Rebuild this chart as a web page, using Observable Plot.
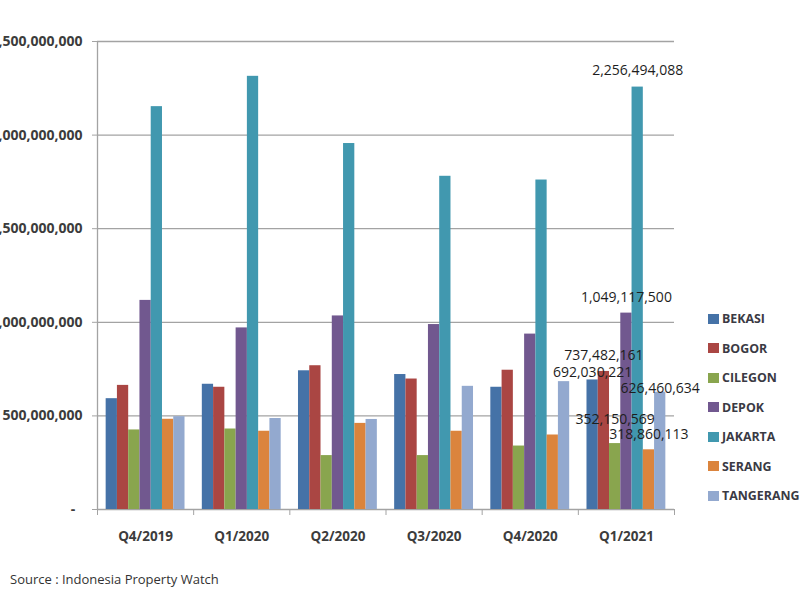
<!DOCTYPE html>
<html>
<head>
<meta charset="utf-8">
<script src="https://cdn.jsdelivr.net/npm/d3@7"></script>
<script src="https://cdn.jsdelivr.net/npm/@observablehq/plot@0.6"></script>
<style>
  html, body { margin: 0; padding: 0; background: #fff; }
  #wrap { position: relative; width: 800px; height: 600px; overflow: hidden; font-family: 'Open Sans', sans-serif; }
  #chart { position: absolute; left: 0; top: 0; }
  #legend { position: absolute; left: 708px; top: 304px; }
  .row { height: 29.5px; display: flex; align-items: center; font-size: 12.4px; font-weight: 700; color: #3a3a44; white-space: nowrap; }
  .sw { width: 11px; height: 10px; margin-right: 3px; flex: none; }
  #source { position: absolute; left: 10px; top: 570px; font-size: 13px; color: #333; }
</style>
</head>
<body>
<div id="wrap">
  <div id="chart"></div>
  <div id="legend"></div>
  <div id="source">Source : Indonesia Property Watch</div>
</div>
<script>
const quarters = ["Q4/2019", "Q1/2020", "Q2/2020", "Q3/2020", "Q4/2020", "Q1/2021"];
const cities = ["BEKASI", "BOGOR", "CILEGON", "DEPOK", "JAKARTA", "SERANG", "TANGERANG"];
const colors = ["#4572A7", "#AA4643", "#89A54E", "#71588F", "#4198AF", "#DB843D", "#93A9CF"];

const bekasi    = [592e6, 669e6, 741e6, 721e6, 653e6, 692030221];
const bogor     = [663e6, 653e6, 768e6, 697e6, 744e6, 737482161];
const cilegon   = [425e6, 430e6, 288e6, 288e6, 339e6, 352150569];
const depok     = [1117e6, 970e6, 1034e6, 988e6, 937e6, 1049117500];
const jakarta   = [2152e6, 2314e6, 1955e6, 1780e6, 1760e6, 2256494088];
const serang    = [482e6, 418e6, 460e6, 418e6, 398e6, 318860113];
const tangerang = [496e6, 486e6, 481e6, 658e6, 683e6, 626460634];

const yTicks = [0, 5e8, 1e9, 1.5e9, 2e9, 2.5e9];
const labelledQuarter = "Q1/2021";

// style: vertical offset (px) of each value label from its bar top
const labelDy = {BEKASI: -7, BOGOR: -16, CILEGON: -24, DEPOK: -16, JAKARTA: -17, SERANG: -15, TANGERANG: -4};

const series = [bekasi, bogor, cilegon, depok, jakarta, serang, tangerang];
const rows = cities.flatMap((city, ci) =>
  series[ci].map((value, qi) => ({city, ci, quarter: quarters[qi], qi, value})));

const pad = 0.09;
const bw = (1 - 2 * pad) / cities.length;
const x1 = d => d.qi + pad + d.ci * bw;
const x2 = d => d.qi + pad + (d.ci + 1) * bw;
const xc = d => d.qi + pad + (d.ci + 0.5) * bw;

const gray = "#a3a3a3";
const fmt = d3.format(",");
const labelled = rows.filter(d => d.quarter === labelledQuarter);

const plot = Plot.plot({
  width: 800,
  height: 560,
  marginLeft: 97,
  marginRight: 126,
  marginTop: 41,
  marginBottom: 51,
  style: {fontFamily: "'Open Sans', sans-serif", background: "#fff"},
  x: {domain: [0, quarters.length], label: null},
  y: {domain: [0, 2.5e9], label: null},
  color: {domain: cities, range: colors},
  marks: [
    Plot.ruleY(yTicks, {stroke: gray, strokeWidth: 1.3}),
    Plot.ruleX([0], {stroke: gray, strokeWidth: 1.3}),
    Plot.axisY(yTicks, {
      label: null,
      tickSize: 5, tickPadding: 10, stroke: gray,
      tickFormat: d => d === 0 ? "-  " : fmt(d),
      fontSize: 14, fontWeight: 700, fill: "#3c3c3c"
    }),
    Plot.axisX(d3.range(quarters.length + 1), {
      label: null,
      tickSize: 6, stroke: gray, tickFormat: () => ""
    }),
    Plot.axisX(quarters.map((q, i) => i + 0.5), {
      label: null,
      tickSize: 0, tickPadding: 22,
      tickFormat: v => quarters[Math.floor(v)],
      fontSize: 13.5, fontWeight: 700, fill: "#3c3c3c"
    }),
    Plot.rectY(rows, {x1, x2, y: "value", fill: "city"}),
    ...cities.map(c => Plot.text(labelled.filter(d => d.city === c), {
      x: xc, y: "value", text: d => fmt(d.value),
      dy: labelDy[c], fontSize: 14, fill: "#1e1e1e"
    }))
  ]
});
document.getElementById("chart").appendChild(plot);

const legend = document.getElementById("legend");
cities.forEach((c, i) => {
  const row = document.createElement("div");
  row.className = "row";
  const sw = document.createElement("span");
  sw.className = "sw";
  sw.style.background = colors[i];
  const t = document.createElement("span");
  t.textContent = c;
  row.appendChild(sw);
  row.appendChild(t);
  legend.appendChild(row);
});
</script>
</body>
</html>
